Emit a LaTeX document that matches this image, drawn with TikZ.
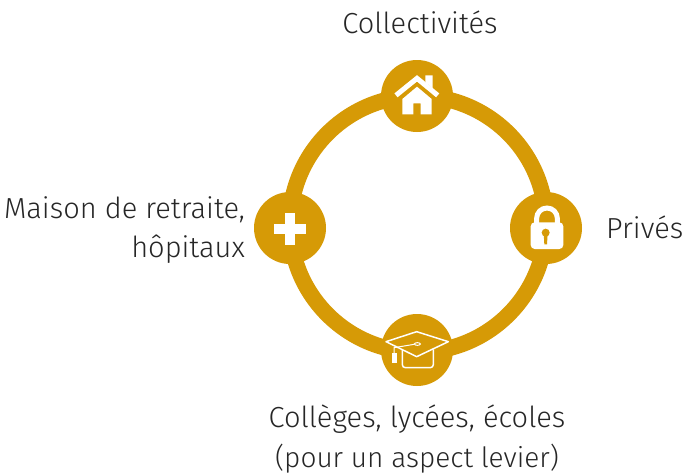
\documentclass[tikz,border=0pt]{standalone}
\usepackage{fontspec}
\setmainfont{Fira Sans Light}
\definecolor{gold}{HTML}{D69A06}
\definecolor{ink}{HTML}{262626}
\tikzset{
  hub/.style={circle,fill=gold,draw=none,minimum size=72pt,inner sep=0pt},
  lab/.style={text=ink,font=\fontsize{29}{39}\selectfont,inner sep=0pt,align=center},
  iconline/.style={draw=white,line width=1.5pt,line join=round},
}
\begin{document}
\begin{tikzpicture}[x=1pt,y=-1pt]
\useasboundingbox (0,0) rectangle (684,474);
\coordinate (c) at (418,224);
\draw[gold,line width=16pt] (c) circle (128);
\node[hub] (top) at (417,96) {};
\node[hub] (bot) at (417,350) {};
\node[hub] (lft) at (290,228) {};
\node[hub] (rgt) at (546,228) {};
\node[lab,anchor=base] (t1) at (420,33) {Collectivités};
\node[lab,anchor=base west] (t2) at (606,238) {Privés};
\node[lab,anchor=base east] (t3) at (245,218) {Maison de retraite,};
\node[lab,anchor=base east] (t4) at (245,257) {hôpitaux};
\node[lab,anchor=base] (t5) at (417,427) {Collèges, lycées, écoles};
\node[lab,anchor=base,font=\fontsize{28}{39}\selectfont] (t6) at (417,467) {(pour un aspect levier)};
% house
\begin{scope}[shift={(370,50)},scale=1/3]
\fill[white] (166,76)--(188,76)--(188,115)--(166,97)--cycle;
\draw[white,line width=5pt,line join=miter] (78,136)--(141,85)--(203,136);
\fill[white] (97,147)--(141,110)--(185,147)--(185,193)--(152,193)--(152,160)--(130,160)--(130,193)--(97,193)--cycle;
\end{scope}
% lock
\begin{scope}[shift={(500,185)},scale=1/3]
\fill[white,rounded corners=4pt] (92,112) rectangle (190,192);
\draw[white,line width=5pt] (110,115)--(110,100) arc[start angle=180,end angle=360,radius=31]--(172,115);
\fill[gold] (137,143) circle (12);
\fill[gold] (131,145)--(143,145)--(141,178)--(133,178)--cycle;
\end{scope}
% cross
\begin{scope}[shift={(245,185)},scale=1/3]
\fill[white] (120,85) rectangle (150,180);
\fill[white] (87,117) rectangle (183,147);
\end{scope}
% cap
\begin{scope}[shift={(370,305)},scale=1/3]
\fill[gold] (48,110)--(140,80)--(235,110)--(140,155)--cycle;
\draw[iconline] (48,110)--(140,80)--(235,110)--(140,155)--cycle;
\draw[iconline,rounded corners=3pt] (97,133)--(97,188)--(190,188)--(190,133);
\draw[white,line width=1pt] (132,118)--(72,128)--(72,145);
\draw[white,line width=1pt] (142,117) ellipse (9 and 4);
\fill[white] (67,145) rectangle (80,175);
\end{scope}
\end{tikzpicture}
\end{document}
